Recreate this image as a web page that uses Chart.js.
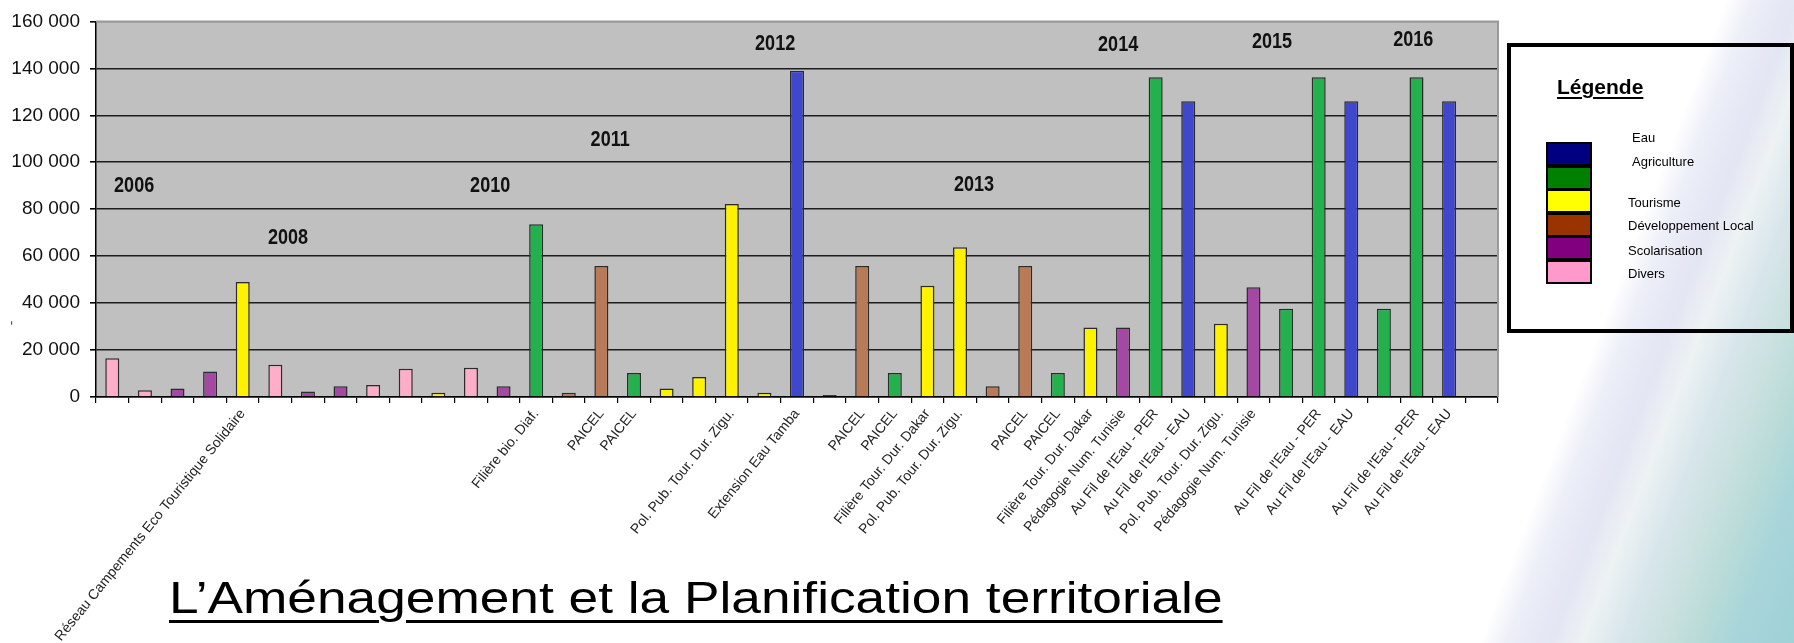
<!DOCTYPE html>
<html><head><meta charset="utf-8">
<script src="https://cdn.jsdelivr.net/npm/chart.js@4.4.0/dist/chart.umd.min.js"></script>
<style>
html,body{margin:0;padding:0;}
body{width:1794px;height:643px;overflow:hidden;position:relative;font-family:"Liberation Sans",Arial,sans-serif;
background:linear-gradient(111deg,#ffffff 0%,#ffffff 84.6%,#eceef8 86%,#e3e6f3 88%,#edf2f4 89.6%,#d8e6eb 91.5%,#cbe1e0 93.3%,#bbdcd8 95%,#a8d5da 97%,#9fd1d7 100%);}
#wrap{position:absolute;left:0;top:0;width:1794px;height:643px;}
#title{position:absolute;left:169px;top:576px;font-size:44px;line-height:44px;white-space:nowrap;transform:scaleX(1.21);transform-origin:0 0;text-decoration:underline;text-decoration-thickness:3px;text-underline-offset:7px;color:#000;}
#legend{position:absolute;left:1507px;top:43px;width:279px;height:282px;border:4px solid #000;}
#legend .head{position:absolute;left:46px;top:29px;font-weight:bold;font-size:21px;line-height:21px;text-decoration:underline;text-decoration-thickness:2px;text-underline-offset:3px;}
#legend .sw{position:absolute;left:35px;width:46px;height:24px;box-sizing:border-box;border:2px solid #000;}
#legend .lb{position:absolute;font-size:13px;line-height:14px;white-space:nowrap;color:#000;}
</style></head>
<body>
<div id="wrap"><canvas id="c"></canvas></div>
<div id="legend"><div class="head">Légende</div></div>
<div id="title">L’Aménagement et la Planification territoriale</div>
<script>
// ---- data ----
const categories = ["","","","","Réseau Campements Eco Touristique Solidaire","","","","","","","","",
 "Filière bio. Diaf.","","PAICEL","PAICEL","","","Pol. Pub. Tour. Dur. Zigu.","","Extension Eau Tamba","",
 "PAICEL","PAICEL","Filière Tour. Dur. Dakar","Pol. Pub. Tour. Dur. Zigu.","","PAICEL","PAICEL",
 "Filière Tour. Dur. Dakar","Pédagogie Num. Tunisie","Au Fil de l'Eau - PER","Au Fil de l'Eau - EAU",
 "Pol. Pub. Tour. Dur. Zigu.","Pédagogie Num. Tunisie","","Au Fil de l'Eau - PER","Au Fil de l'Eau - EAU","",
 "Au Fil de l'Eau - PER","Au Fil de l'Eau - EAU",""];
const values = [16500,2900,3600,10900,49000,13700,2300,4600,5100,12000,1800,12500,4600,
 73600,1800,55800,10200,3600,8500,82200,1800,139000,800,
 55800,10200,47400,63800,4600,55800,10200,
 29600,29600,136200,126000,31200,46700,37600,136200,126000,37600,
 136200,126000,null];
const sectors = ["Divers","Divers","Scolarisation","Scolarisation","Tourisme","Divers","Scolarisation","Scolarisation","Divers","Divers","Tourisme","Divers","Scolarisation",
 "Agriculture","Développement Local","Développement Local","Agriculture","Tourisme","Tourisme","Tourisme","Tourisme","Eau","Autre",
 "Développement Local","Agriculture","Tourisme","Tourisme","Développement Local","Développement Local","Agriculture",
 "Tourisme","Scolarisation","Agriculture","Eau","Tourisme","Scolarisation","Agriculture","Agriculture","Eau","Agriculture",
 "Agriculture","Eau",null];
const yearLabels = ["2006","2008","2010","2011","2012","2013","2014","2015","2016"];
const yTicks = [0,20000,40000,60000,80000,100000,120000,140000,160000];
const legendNames = ["Eau","Agriculture","Tourisme","Développement Local","Scolarisation","Divers"];

// ---- styles ----
const barColors = {"Eau":"#3f48cc","Agriculture":"#22b14c","Tourisme":"#fff200","Développement Local":"#b97a57","Scolarisation":"#a349a4","Divers":"#ffaec9","Autre":"#000000"};
const legendColors = ["#000080","#008000","#ffff00","#993300","#800080","#ff99cc"];
// year label anchors in data units [category position, value]
const yearAnchors = [[0.67,89900],[5.39,67600],[11.59,89900],[15.27,109700],[20.33,150500],[26.43,90300],[30.85,150100],[35.57,151400],[39.9,152200]];
const legendRowTops = [95,118.5,142,165.5,189,212.5];
const legendLabelPos = [[121,84],[121,108],[117,149],[117,172],[117,197],[117,220]];

// legend
const lg = document.getElementById('legend');
legendNames.forEach((n,i)=>{
  const s=document.createElement('div'); s.className='sw'; s.style.top=legendRowTops[i]+'px'; s.style.background=legendColors[i]; lg.appendChild(s);
  const l=document.createElement('div'); l.className='lb'; l.textContent=n; l.style.left=legendLabelPos[i][0]+'px'; l.style.top=legendLabelPos[i][1]+'px'; lg.appendChild(l);
});

const fmt = v => String(v).replace(/\B(?=(\d{3})+(?!\d))/g,' ');

const decor = {
  id:'decor',
  beforeDraw(chart){
    const {ctx, chartArea:a} = chart;
    ctx.save(); ctx.fillStyle='#c0c0c0'; ctx.fillRect(a.left,a.top,a.right-a.left,a.bottom-a.top); ctx.restore();
  },
  beforeDatasetsDraw(chart){
    const {ctx, chartArea:a} = chart;
    ctx.save(); ctx.strokeStyle='#9a9a9a'; ctx.lineWidth=2;
    ctx.beginPath(); ctx.moveTo(a.left,a.top); ctx.lineTo(a.right,a.top); ctx.lineTo(a.right,a.bottom); ctx.stroke();
    ctx.restore();
  },
  afterDraw(chart){
    const {ctx} = chart; const xs=chart.scales.x, ys=chart.scales.y;
    ctx.save();
    ctx.fillStyle='#111'; ctx.font='bold 22px "Liberation Sans", Arial, sans-serif';
    ctx.textAlign='center'; ctx.textBaseline='middle';
    yearLabels.forEach((t,i)=>{
      const x=xs.getPixelForValue(yearAnchors[i][0]); const y=ys.getPixelForValue(yearAnchors[i][1]);
      ctx.save(); ctx.translate(x,y); ctx.scale(0.82,1); ctx.fillText(t,0,0); ctx.restore();
    });
    // small axis-title mark
    ctx.save(); ctx.translate(12,323); ctx.rotate(-Math.PI/2); ctx.font='14px "Liberation Sans"'; ctx.fillStyle='#555'; ctx.fillText('-',0,0); ctx.restore();
    ctx.restore();
  }
};

new Chart(document.getElementById('c'), {
  type:'bar',
  data:{labels:categories, datasets:[{data:values, backgroundColor:sectors.map(s=>s?barColors[s]:'transparent'),
    borderColor:'#2b2b2b', borderWidth:1.5, barPercentage:0.43, categoryPercentage:1}]},
  options:{
    responsive:true, maintainAspectRatio:false, animation:false,
    layout:{padding:{left:0,top:17,right:296,bottom:0}},
    plugins:{legend:{display:false}, tooltip:{enabled:false}},
    scales:{
      x:{
        afterFit(s){ s.height = 643-397; },
        grid:{display:true, drawOnChartArea:false, drawTicks:true, tickLength:6, tickColor:'#000', lineWidth:1.2, offset:true},
        border:{display:true, color:'#000', width:1.5},
        ticks:{autoSkip:false, minRotation:51, maxRotation:51, padding:3, color:'#222', font:{family:'"Liberation Sans", Arial, sans-serif', size:14}}
      },
      y:{
        min:0, max:160000,
        afterFit(s){ s.width = 96; },
        afterBuildTicks(s){ s.ticks = yTicks.map(v=>({value:v})); },
        grid:{color:c=>c.tick && c.tick.value===160000 ? '#9a9a9a' : '#1c1c1c', lineWidth:1.6, tickLength:6, tickColor:'#000', drawTicks:true},
        border:{display:true, color:'#000', width:1.5},
        ticks:{padding:10, color:'#111', font:{family:'"Liberation Sans", Arial, sans-serif', size:19}, callback:v=>fmt(v)}
      }
    }
  },
  plugins:[decor]
});
</script>
</body></html>
